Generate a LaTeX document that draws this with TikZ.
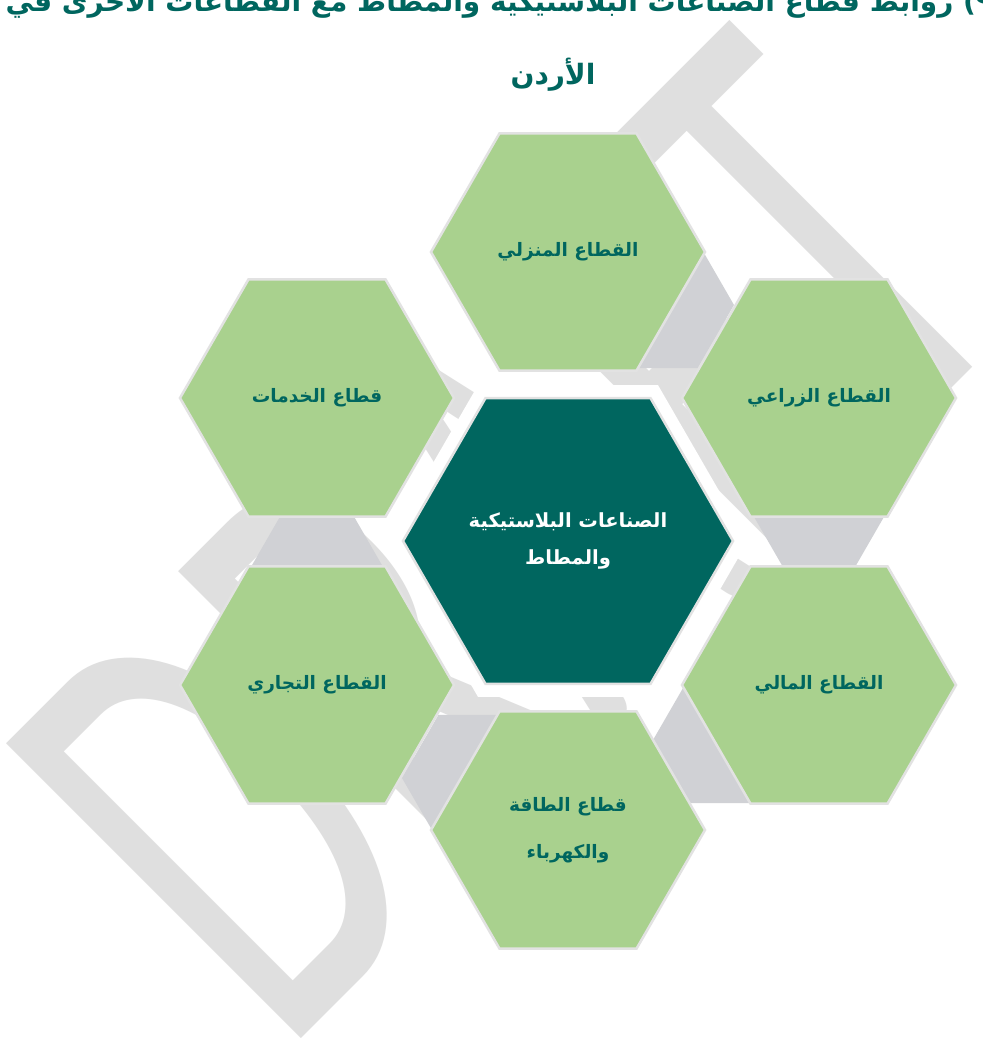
\documentclass[tikz,border=0pt]{standalone}
\usepackage{fontspec}
\usepackage{xcolor}
\usepackage{graphicx}
\usepackage{tikz}
\usetikzlibrary{shapes.geometric}
\TeXXeTstate=1
\newfontfamily\arabicfont[Script=Arabic]{DejaVu Sans}
\newfontfamily\markfont{Carlito}
\newcommand{\artext}[1]{\beginR #1\endR}
\definecolor{tealdark}{HTML}{00665F}
\definecolor{hexgreen}{HTML}{A9D18E}
\definecolor{hexedge}{HTML}{E2E2E2}
\definecolor{linkgray}{HTML}{D0D1D5}
\definecolor{markgray}{HTML}{DFDFDF}

\begin{document}
\begin{tikzpicture}[x=1pt, y=-1pt,
    hexbox/.style={regular polygon, regular polygon sides=6, minimum size=274pt, inner sep=0pt, fill=hexgreen, draw=hexedge, line width=2.5pt, align=center, text=tealdark, font=\arabicfont\bfseries\fontsize{18.5}{47}\selectfont},
    corebox/.style={regular polygon, regular polygon sides=6, minimum size=330pt, inner sep=0pt, fill=tealdark, draw=hexedge, line width=2.5pt, preaction={draw=white, line width=26pt}, align=center, text=white, font=\arabicfont\bfseries\fontsize{19.5}{37}\selectfont},
    linkbox/.style={regular polygon, regular polygon sides=6, minimum size=146pt, inner sep=0pt, fill=linkgray},
    watermark/.style={inner sep=0pt, text=markgray, font=\markfont\fontsize{650}{650}\selectfont},
    titletext/.style={inner sep=0pt, text=tealdark, font=\arabicfont\bfseries\fontsize{28}{34}\selectfont}
]
    \useasboundingbox (0,0) rectangle (982,1038);
    \clip (0,0) rectangle (982,1038);
    \fill[white] (0,0) rectangle (982,1038);

    % Watermark
    \node[watermark, rotate=45, anchor=base west] (draftmark) at (282,1058) {\scalebox{0.605}[1]{DRAFT}};

    % Links
    \node[linkbox] (link1) at (661,305) {};
    \node[linkbox] (link2) at (819,503) {};
    \node[linkbox] (link3) at (726,740) {};
    \node[linkbox] (link4) at (475,778) {};
    \node[linkbox] (link5) at (317,579) {};

    % Sectors
    \node[hexbox] (household) at (568,252) {\artext{القطاع المنزلي}};
    \node[hexbox] (agri) at (819,398) {\artext{القطاع الزراعي}};
    \node[hexbox] (finance) at (819,685) {\artext{القطاع المالي}};
    \node[hexbox] (energy) at (568,830) {\artext{قطاع الطاقة}\\\artext{والكهرباء}};
    \node[hexbox] (trade) at (317,685) {\artext{القطاع التجاري}};
    \node[hexbox] (services) at (317,398) {\artext{قطاع الخدمات}};

    % Core
    \node[corebox] (plastics) at (568,541) {\artext{الصناعات البلاستيكية}\\\artext{والمطاط}};

    % Title
    \node[titletext, anchor=base] (title) at (545,12) {\artext{شكل (٩) روابط قطاع الصناعات البلاستيكية والمطاط مع القطاعات الأخرى في}};
    \node[titletext, anchor=base] (country) at (553,85) {\artext{الأردن}};
\end{tikzpicture}
\end{document}
